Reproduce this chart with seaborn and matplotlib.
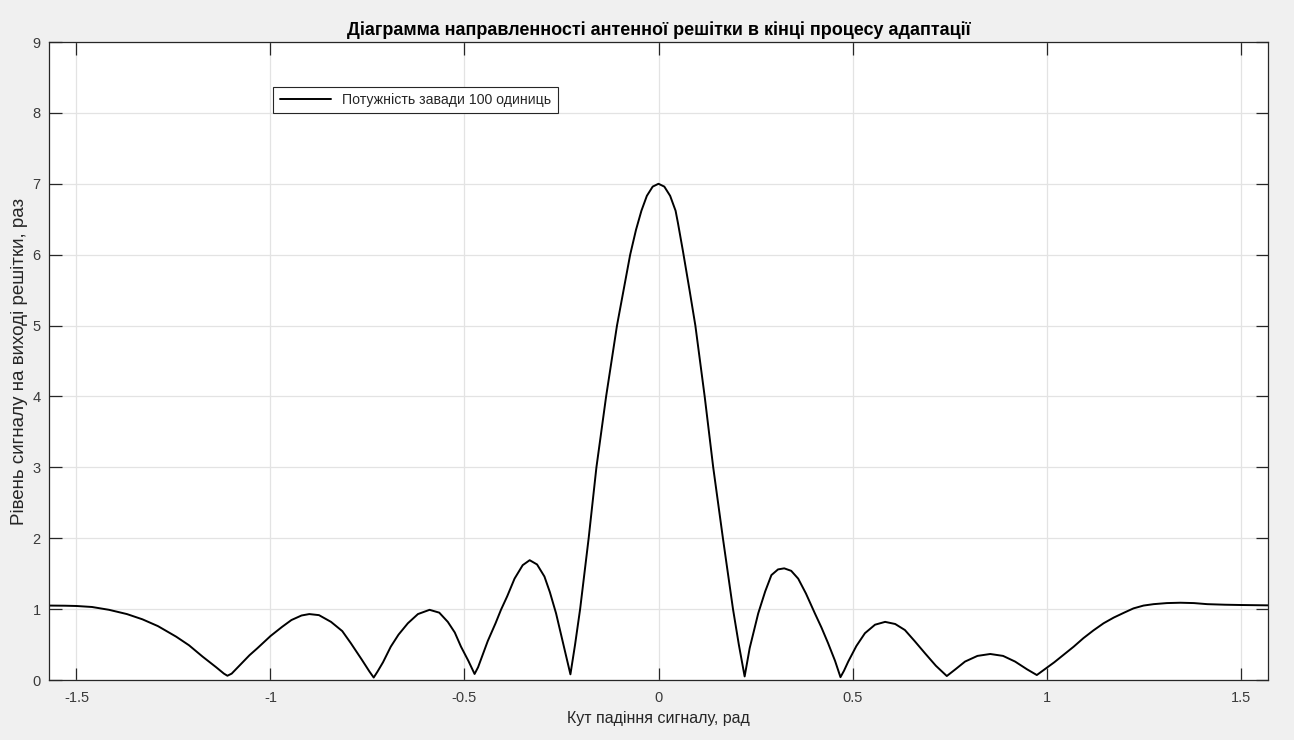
import matplotlib
matplotlib.use("Agg")
import matplotlib.pyplot as plt
import seaborn as sns
import pandas as pd

# Data
angle_rad = [-1.571, -1.53, -1.5, -1.46, -1.416, -1.37, -1.33, -1.29, -1.243, -1.21,
             -1.175, -1.14, -1.12, -1.111, -1.10, -1.054, -1.034, -1.0, -0.97, -0.946,
             -0.92, -0.9, -0.875, -0.844, -0.815, -0.793, -0.765, -0.745, -0.734, -0.724,
             -0.71, -0.69, -0.67, -0.646, -0.62, -0.59, -0.565, -0.543, -0.525, -0.509,
             -0.49, -0.474, -0.465, -0.44, -0.42, -0.406, -0.39, -0.371, -0.35, -0.332,
             -0.313, -0.294, -0.28, -0.264, -0.245, -0.227, -0.215, -0.202, -0.18, -0.16,
             -0.135, -0.107, -0.09, -0.073, -0.058, -0.044, -0.03, -0.015, 0.0, 0.015,
             0.03, 0.044, 0.05, 0.063, 0.08, 0.095, 0.119, 0.141, 0.166, 0.192,
             0.207, 0.222, 0.235, 0.257, 0.275, 0.291, 0.308, 0.324, 0.342, 0.36,
             0.38, 0.403, 0.42, 0.437, 0.455, 0.469, 0.478, 0.489, 0.51, 0.532,
             0.558, 0.584, 0.61, 0.635, 0.66, 0.687, 0.715, 0.743, 0.765, 0.79,
             0.822, 0.855, 0.888, 0.919, 0.95, 0.975, 0.995, 1.02, 1.045, 1.07,
             1.095, 1.121, 1.147, 1.173, 1.2, 1.224, 1.25, 1.276, 1.31, 1.345,
             1.38, 1.414, 1.46, 1.5, 1.571]
level = [1.05, 1.048, 1.044, 1.03, 0.99, 0.93, 0.856, 0.76, 0.611, 0.49,
         0.33, 0.18, 0.09, 0.06, 0.09, 0.35, 0.447, 0.62, 0.75, 0.846,
         0.91, 0.93, 0.915, 0.82, 0.69, 0.52, 0.29, 0.12, 0.035, 0.12,
         0.25, 0.47, 0.64, 0.80, 0.93, 0.99, 0.95, 0.82, 0.67, 0.47,
         0.27, 0.085, 0.18, 0.55, 0.80, 0.99, 1.18, 1.43, 1.62, 1.69,
         1.63, 1.46, 1.24, 0.94, 0.5, 0.08, 0.5, 1.0, 2.0, 3.0,
         4.0, 5.0, 5.5, 6.0, 6.35, 6.62, 6.83, 6.96, 7.0, 6.96,
         6.83, 6.62, 6.45, 6.05, 5.5, 5.0, 4.0, 3.0, 2.0, 1.0,
         0.5, 0.05, 0.45, 0.94, 1.25, 1.48, 1.56, 1.575, 1.54, 1.43,
         1.22, 0.94, 0.74, 0.52, 0.27, 0.04, 0.13, 0.26, 0.48, 0.66,
         0.78, 0.82, 0.79, 0.705, 0.55, 0.376, 0.2, 0.056, 0.15, 0.26,
         0.34, 0.367, 0.34, 0.26, 0.15, 0.07, 0.15, 0.25, 0.36, 0.47,
         0.59, 0.70, 0.80, 0.88, 0.95, 1.01, 1.05, 1.07, 1.085, 1.09,
         1.085, 1.07, 1.062, 1.058, 1.053]

x_ticks = [-1.5, -1, -0.5, 0, 0.5, 1, 1.5]
x_tick_labels = ["-1.5", "-1", "-0.5", "0", "0.5", "1", "1.5"]
y_ticks = [0, 1, 2, 3, 4, 5, 6, 7, 8, 9]

title_text = "Діаграмма направленності антенної решітки в кінці процесу адаптації"
x_label = "Кут падіння сигналу, рад"
y_label = "Рівень сигналу на виході решітки, раз"
legend_label = "Потужність завади 100 одиниць"

df = pd.DataFrame({"angle": angle_rad, "level": level, "series": legend_label})

sns.set_style("whitegrid")
plt.rcParams["font.family"] = ["Liberation Sans", "DejaVu Sans"]
plt.rcParams["axes.unicode_minus"] = False

fig = plt.figure(figsize=(12.94, 7.40), dpi=100, facecolor="#f0f0f0")
ax = fig.add_axes([49 / 1294, 1 - 680 / 740, (1268 - 49) / 1294, (680 - 42) / 740])
ax.set_facecolor("white")

sns.lineplot(data=df, x="angle", y="level", hue="series", palette=["black"],
             sort=False, linewidth=1.4, ax=ax, estimator=None)

ax.set_xlim(-1.5708, 1.5708)
ax.set_ylim(0, 9)
ax.set_xticks(x_ticks)
ax.set_xticklabels(x_tick_labels)
ax.set_yticks(y_ticks)

ax.grid(True, color="#e3e3e3", linewidth=0.9)
for s in ax.spines.values():
    s.set_visible(True)
    s.set_color("#262626")
    s.set_linewidth(0.9)
ax.tick_params(axis="both", direction="in", length=9, width=0.9, color="#262626",
               labelcolor="#3a3a3a", labelsize=10.5, top=True, right=True,
               bottom=True, left=True, pad=8)
ax.tick_params(axis="y", pad=6)

ax.set_title(title_text, fontsize=13, fontweight="bold", color="black", pad=5)
ax.set_xlabel(x_label, fontsize=11.5, color="#262626", labelpad=4)
ax.set_ylabel(y_label, fontsize=13.5, color="#262626", labelpad=3)

leg = ax.legend(loc="upper left", bbox_to_anchor=(0.184, 0.93), fontsize=10.2,
                frameon=True, fancybox=False, handlelength=3.6, borderpad=0.45,
                borderaxespad=0)
leg.get_frame().set_edgecolor("#262626")
leg.get_frame().set_linewidth(0.8)
leg.get_frame().set_alpha(1)

fig.savefig("out.png", dpi=100, facecolor=fig.get_facecolor())
